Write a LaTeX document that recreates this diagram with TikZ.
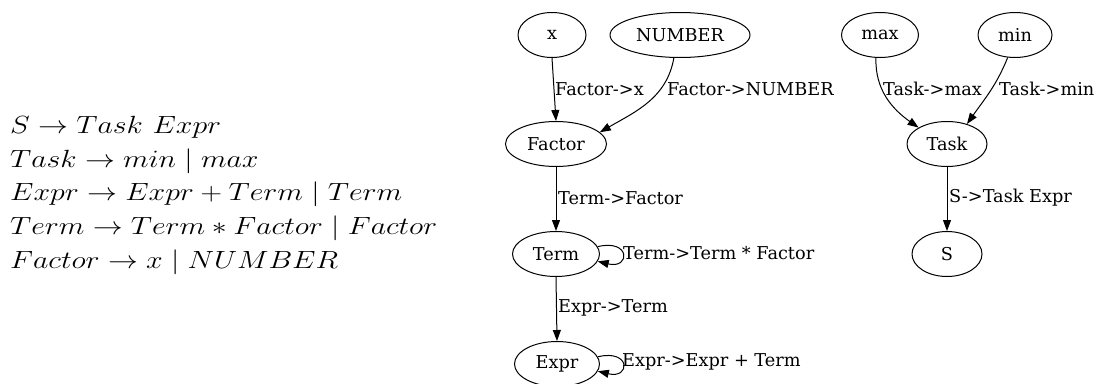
\documentclass[tikz,border=0pt]{standalone}
\usepackage{graphicx}
\usepackage{fontspec}
\newfontfamily\gvfont{DejaVu Serif}
\usetikzlibrary{shapes.geometric,arrows.meta}
\newcommand{\gstretch}[1]{\scalebox{1.2}[1]{#1}}
\begin{document}
\begin{tikzpicture}[x=1pt,y=1pt,
  gv/.style={draw, ellipse, inner sep=0pt, line width=1pt, font=\gvfont\fontsize{17.7}{21}\selectfont},
  lbl/.style={inner sep=0pt, anchor=west, font=\gvfont\fontsize{17.7}{21}\selectfont},
  arr/.style={line width=1pt, -{Triangle[length=11pt,width=8pt]}},
  gram/.style={inner sep=0pt, anchor=base west, font=\fontsize{27}{33}\selectfont}]
\useasboundingbox (0,0) rectangle (1094,-383);
% grammar
\node[gram] (g1) at (10,-133.5) {\gstretch{$S \to Task\ Expr$}};
\node[gram] (g2) at (10,-167.2) {\gstretch{$Task \to min \mid max$}};
\node[gram] (g3) at (10,-200.9) {\gstretch{$Expr \to Expr + Term \mid Term$}};
\node[gram] (g4) at (10,-234.6) {\gstretch{$Term \to Term \ast Factor \mid Factor$}};
\node[gram] (g5) at (10,-268.3) {\gstretch{$Factor \to x \mid NUMBER$}};
% nodes
\node[gv, minimum width=68pt, minimum height=45pt] (x) at (552,-35) {x};
\node[gv, minimum width=140pt, minimum height=45pt] (NUMBER) at (680,-35) {NUMBER};
\node[gv, minimum width=101pt, minimum height=45pt] (Factor) at (556,-144) {Factor};
\node[gv, minimum width=87pt, minimum height=45pt] (Term) at (556,-254) {Term};
\node[gv, minimum width=85pt, minimum height=45pt] (Expr) at (557,-364) {Expr};
\node[gv, minimum width=77pt, minimum height=45pt] (max) at (880,-35) {max};
\node[gv, minimum width=74pt, minimum height=45pt] (min) at (1015,-35) {min};
\node[gv, minimum width=80pt, minimum height=45pt] (Task) at (947,-144) {Task};
\node[gv, minimum width=70pt, minimum height=45pt] (S) at (947,-254) {S};
% edges
\draw[arr] (x.south) -- (Factor.north);
\draw[arr] (NUMBER.255) to[out=-100, in=30] (Factor.15);
\draw[arr] (Factor.south) -- (Term.north);
\draw[arr] (Term.10) .. controls +(33,8) and +(33,-8) .. (Term.-10);
\draw[arr] (Term.south) -- (Expr.north);
\draw[arr] (Expr.10) .. controls +(33,8) and +(33,-8) .. (Expr.-10);
\draw[arr] (max.260) to[out=-92, in=145] (Task.150);
\draw[arr] (min.252) to[out=-112, in=55] (Task.45);
\draw[arr] (Task.south) -- (S.north);
% labels
\node[lbl] (l1) at (555,-89) {Factor->x};
\node[lbl] (l2) at (667,-89) {Factor->NUMBER};
\node[lbl] (l3) at (558,-198) {Term->Factor};
\node[lbl] (l4) at (623,-253) {Term->Term * Factor};
\node[lbl] (l5) at (558,-308) {Expr->Term};
\node[lbl] (l6) at (622,-362) {Expr->Expr + Term};
\node[lbl] (l7) at (883,-89) {Task->max};
\node[lbl] (l8) at (999,-89) {Task->min};
\node[lbl] (l9) at (949,-198) {S->Task Expr};
\end{tikzpicture}
\end{document}
